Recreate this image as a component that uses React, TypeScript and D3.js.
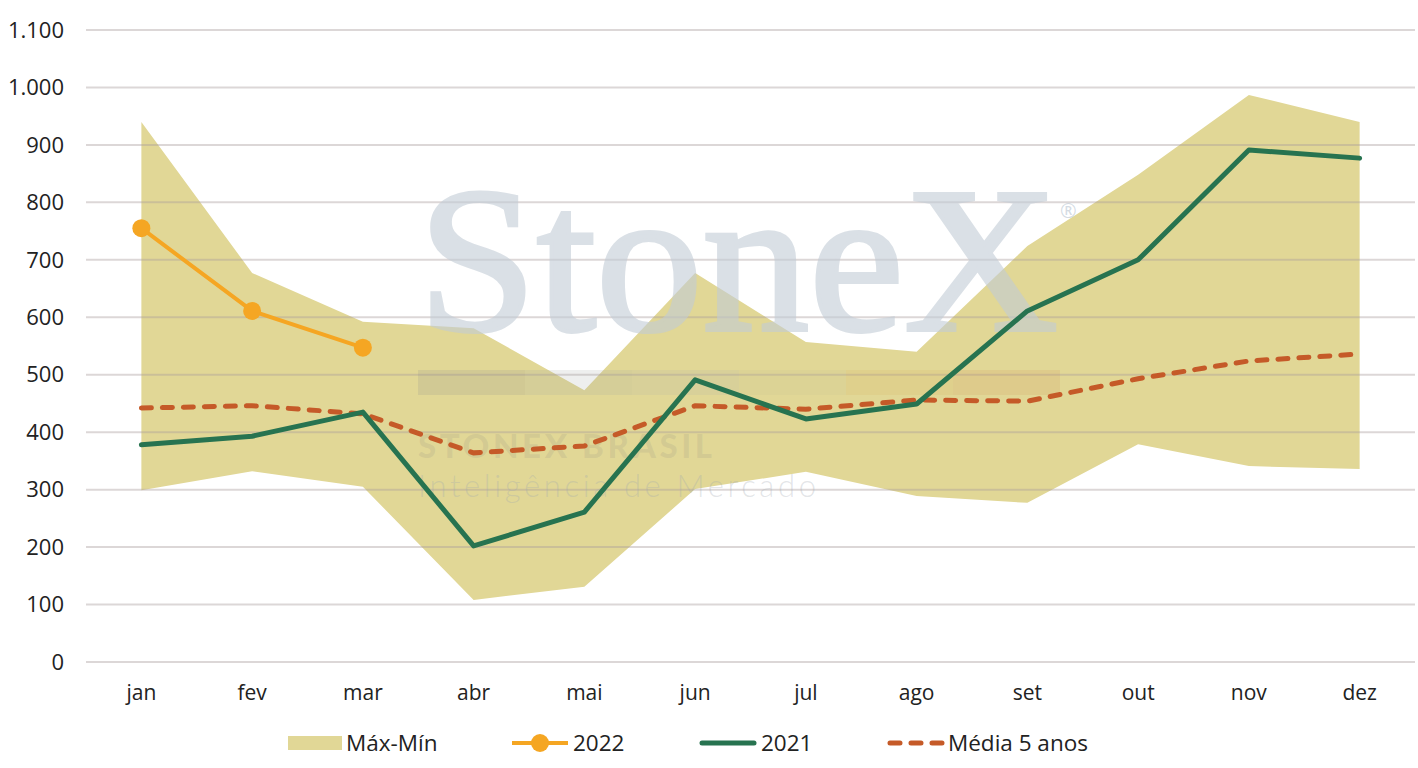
import React, { useEffect, useRef } from "react";
import * as d3 from "d3";

// months (pt-BR)
const months = ["jan", "fev", "mar", "abr", "mai", "jun", "jul", "ago", "set", "out", "nov", "dez"];
const maxValues = [940, 677, 592, 581, 473, 677, 557, 540, 724, 848, 987, 940];
const minValues = [299, 332, 305, 108, 131, 301, 331, 289, 277, 379, 341, 336];
const values2021 = [378, 393, 435, 202, 261, 491, 423, 449, 611, 700, 891, 877];
const values2022 = [755, 611, 547];
const media5 = [442, 446, 432, 364, 376, 446, 440, 456, 454, 493, 524, 536];
const yTicks = [0, 100, 200, 300, 400, 500, 600, 700, 800, 900, 1000, 1100];

const W = 1418;
const H = 768;
const FONT = "'Open Sans', Lato, sans-serif";

const App = () => {
  const ref = useRef<SVGSVGElement>(null);

  useEffect(() => {
    const svg = d3.select(ref.current);
    svg.selectAll("*").remove();

    const x: any = d3.scalePoint().domain(months).range([86, 1415]).padding(0.5);
    const y = d3.scaleLinear().domain([0, 1100]).range([662, 30]);

    // band (max-min)
    const band: any = months.map((m, i) => ({ m, hi: maxValues[i], lo: minValues[i] }));
    const area = d3
      .area()
      .x((d: any) => x(d.m))
      .y0((d: any) => y(d.lo))
      .y1((d: any) => y(d.hi));
    svg.append("path").datum(band).attr("d", area).attr("fill", "#e1d796");

    // grid
    svg
      .append("g")
      .selectAll("line")
      .data(yTicks)
      .join("line")
      .attr("x1", 86)
      .attr("x2", 1415)
      .attr("y1", (d) => y(d))
      .attr("y2", (d) => y(d))
      .attr("stroke", "#a89a9a")
      .attr("stroke-opacity", 0.4)
      .attr("stroke-width", 2);

    // watermark
    const wm = svg.append("g").attr("pointer-events", "none");
    wm.append("g")
      .attr("opacity", 0.6)
      .append("text")
      .text("StoneX")
      .attr("x", 418)
      .attr("y", 330)
      .attr("font-family", "'Liberation Serif', 'DejaVu Serif', serif")
      .attr("font-size", 208)
      .attr("textLength", 640)
      .attr("lengthAdjust", "spacingAndGlyphs")
      .attr("fill", "#c2ccd6")
      .attr("stroke", "#c2ccd6")
      .attr("stroke-width", 4);
    wm.append("text")
      .text("®")
      .attr("x", 1060)
      .attr("y", 218)
      .attr("font-family", FONT)
      .attr("font-size", 20)
      .attr("fill", "#c2ccd6")
      .attr("fill-opacity", 0.7);
    const wmBand = ["#8c8c8c", "#a0a5a0", "#b0b0a8", "#c8c090", "#d8b060", "#d09858"];
    const bandX = d3.scaleBand<number>().domain(d3.range(wmBand.length)).range([418, 1060]);
    wm.append("g")
      .selectAll("rect")
      .data(wmBand)
      .join("rect")
      .attr("x", (_d, i) => bandX(i) as number)
      .attr("y", 370)
      .attr("width", bandX.bandwidth())
      .attr("height", 25)
      .attr("fill", (d) => d)
      .attr("fill-opacity", 0.18);
    wm.append("text")
      .text("STONEX BRASIL")
      .attr("x", 418)
      .attr("y", 458)
      .attr("font-family", "Lato, sans-serif")
      .attr("font-weight", 900)
      .attr("font-size", 33)
      .attr("textLength", 294)
      .attr("fill", "#8a8a80")
      .attr("fill-opacity", 0.17);
    wm.append("text")
      .text("Inteligência de Mercado")
      .attr("x", 418)
      .attr("y", 497)
      .attr("font-family", "Lato, sans-serif")
      .attr("font-weight", 300)
      .attr("font-size", 31)
      .attr("textLength", 398)
      .attr("fill", "#a0a8b0")
      .attr("fill-opacity", 0.3);

    const lineGen = (vals: number[]) =>
      d3
        .line<number>()
        .x((_d, i) => x(months[i]))
        .y((d) => y(d))(vals);

    // média 5 anos
    svg
      .append("path")
      .attr("d", lineGen(media5))
      .attr("fill", "none")
      .attr("stroke", "#c55a28")
      .attr("stroke-width", 5)
      .attr("stroke-dasharray", "10 11")
      .attr("stroke-linecap", "round");

    // 2021
    svg
      .append("path")
      .attr("d", lineGen(values2021))
      .attr("fill", "none")
      .attr("stroke", "#277350")
      .attr("stroke-width", 5)
      .attr("stroke-linejoin", "round")
      .attr("stroke-linecap", "round");

    // 2022
    svg
      .append("path")
      .attr("d", lineGen(values2022))
      .attr("fill", "none")
      .attr("stroke", "#f5a623")
      .attr("stroke-width", 4);
    svg
      .append("g")
      .selectAll("circle")
      .data(values2022)
      .join("circle")
      .attr("cx", (_d, i) => x(months[i]))
      .attr("cy", (d) => y(d))
      .attr("r", 9)
      .attr("fill", "#f5a623");

    // y axis labels
    svg
      .append("g")
      .selectAll("text")
      .data(yTicks)
      .join("text")
      .attr("x", 64)
      .attr("y", (d) => y(d))
      .attr("dy", "0.35em")
      .attr("text-anchor", "end")
      .attr("font-family", FONT)
      .attr("font-size", 22)
      .attr("fill", "#222")
      .text((d) => d3.format(",")(d).replace(/,/g, "."));

    // x axis labels
    svg
      .append("g")
      .selectAll("text")
      .data(months)
      .join("text")
      .attr("x", (d) => x(d))
      .attr("y", 693)
      .attr("dy", "0.35em")
      .attr("text-anchor", "middle")
      .attr("font-family", FONT)
      .attr("font-size", 21)
      .attr("fill", "#222")
      .text((d) => d);

    // legend
    const lg = svg.append("g").attr("font-family", FONT).attr("font-size", 22.5).attr("fill", "#222");
    const ly = 743;
    lg.append("rect").attr("x", 288).attr("y", ly - 7).attr("width", 54).attr("height", 14).attr("fill", "#e1d796");
    lg.append("text").attr("x", 346).attr("y", ly).attr("dy", "0.35em").text("Máx-Mín");

    lg.append("line").attr("x1", 512).attr("x2", 568).attr("y1", ly).attr("y2", ly).attr("stroke", "#f5a623").attr("stroke-width", 4);
    lg.append("circle").attr("cx", 540).attr("cy", ly).attr("r", 9).attr("fill", "#f5a623");
    lg.append("text").attr("x", 573).attr("y", ly).attr("dy", "0.35em").text("2022");

    lg.append("line").attr("x1", 702).attr("x2", 754).attr("y1", ly).attr("y2", ly).attr("stroke", "#277350").attr("stroke-width", 5).attr("stroke-linecap", "round");
    lg.append("text").attr("x", 761).attr("y", ly).attr("dy", "0.35em").text("2021");

    lg.append("line").attr("x1", 890).attr("x2", 944).attr("y1", ly).attr("y2", ly).attr("stroke", "#c55a28").attr("stroke-width", 5).attr("stroke-dasharray", "10 11").attr("stroke-linecap", "round");
    lg.append("text").attr("x", 948).attr("y", ly).attr("dy", "0.35em").text("Média 5 anos");
  }, []);

  return (
    <svg
      ref={ref}
      width={W}
      height={H}
      style={{ position: "absolute", left: 0, top: 0, background: "#fff" }}
    />
  );
};

export default App;
